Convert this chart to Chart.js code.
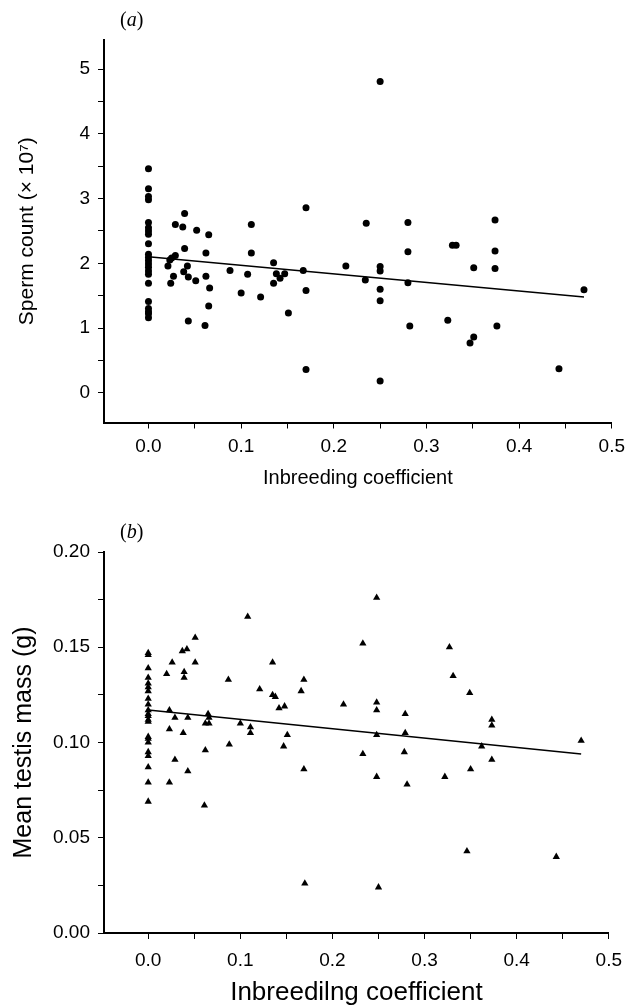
<!DOCTYPE html>
<html>
<head>
<meta charset="utf-8">
<script src="https://cdn.jsdelivr.net/npm/chart.js@4/dist/chart.umd.min.js"></script>
<style>
  body { margin: 0; background: #fff; }
  .panel { position: absolute; left: 0; }
  canvas { display: block; }
</style>
</head>
<body>
<div class="panel" style="top:0px"><canvas id="sperm-chart" width="632" height="490"></canvas></div>
<div class="panel" style="top:480px"><canvas id="testis-chart" width="632" height="528"></canvas></div>
<script>
// (a) sperm count against inbreeding coefficient
var spermX = [0, 0, 0, 0, 0, 0, 0, 0, 0, 0, 0, 0, 0, 0, 0, 0, 0, 0, 0, 0, 0, 0,
    0.021, 0.023, 0.025, 0.029, 0.027, 0.024, 0.029, 0.037, 0.039, 0.039, 0.042, 0.038, 0.043, 0.043,
    0.051, 0.052, 0.062, 0.062, 0.061, 0.065, 0.066, 0.065, 0.088, 0.100, 0.107, 0.111, 0.111, 0.121,
    0.135, 0.135, 0.138, 0.142, 0.147, 0.151, 0.167, 0.170, 0.170, 0.170, 0.213, 0.235, 0.234,
    0.250, 0.250, 0.250, 0.250, 0.250, 0.250, 0.280, 0.280, 0.280, 0.282, 0.323, 0.328, 0.332,
    0.351, 0.347, 0.351, 0.374, 0.374, 0.374, 0.376, 0.443, 0.470]
var spermY = [3.46, 3.15, 3.03, 2.98, 2.63, 2.55, 2.50, 2.45, 2.30, 2.14, 2.09, 2.04, 1.99, 1.94, 1.88, 1.83, 1.69, 1.41, 1.30, 1.25, 1.22, 1.16,
    1.96, 2.05, 2.08, 2.12, 1.80, 1.69, 2.60, 2.56, 2.77, 2.23, 1.96, 1.87, 1.79, 1.11,
    1.73, 2.51, 2.16, 1.80, 1.04, 2.44, 1.62, 1.34, 1.89, 1.54, 1.83, 2.60, 2.16, 1.48,
    2.01, 1.69, 1.84, 1.77, 1.84, 1.23, 1.89, 2.86, 1.58, 0.36, 1.96, 2.62, 1.74,
    4.81, 1.95, 1.88, 1.60, 1.42, 0.18, 2.63, 2.18, 1.70, 1.03, 1.12, 2.28, 2.28,
    1.93, 0.77, 0.86, 2.67, 2.19, 1.92, 1.03, 0.37, 1.59]
var spermFitX = [0, 0.47]
var spermFitY = [2.10, 1.48]

// (b) mean testis mass against inbreeding coefficient
var testisX = [0, 0, 0, 0, 0, 0, 0, 0, 0, 0, 0, 0, 0, 0, 0, 0, 0, 0, 0, 0, 0, 0,
    0.020, 0.023, 0.023, 0.023, 0.026, 0.029, 0.029, 0.037, 0.042, 0.039,
    0.039, 0.038, 0.043, 0.043, 0.051, 0.051, 0.065, 0.066, 0.062, 0.066,
    0.062, 0.061, 0.087, 0.088, 0.100, 0.108, 0.111, 0.111, 0.121, 0.135,
    0.135, 0.138, 0.142, 0.147, 0.148, 0.151, 0.169, 0.166, 0.169, 0.170,
    0.212, 0.233, 0.233, 0.248, 0.248, 0.248, 0.248, 0.248, 0.250, 0.279,
    0.279, 0.278, 0.281, 0.322, 0.327, 0.331, 0.349, 0.362, 0.350, 0.346,
    0.373, 0.373, 0.373, 0.443, 0.470]
var testisY = [0.147, 0.146, 0.139, 0.134, 0.131, 0.129, 0.127, 0.123, 0.120, 0.117, 0.115, 0.114, 0.112, 0.111, 0.103, 0.102, 0.100, 0.095, 0.093, 0.087, 0.079, 0.069,
    0.136, 0.117, 0.107, 0.079, 0.142, 0.113, 0.091, 0.148, 0.149, 0.137,
    0.134, 0.105, 0.113, 0.085, 0.155, 0.142, 0.115, 0.113, 0.110, 0.110,
    0.096, 0.067, 0.133, 0.099, 0.110, 0.166, 0.108, 0.105, 0.128, 0.142,
    0.125, 0.124, 0.118, 0.098, 0.119, 0.104, 0.133, 0.127, 0.086, 0.026,
    0.120, 0.152, 0.094, 0.176, 0.121, 0.117, 0.104, 0.082, 0.024, 0.115,
    0.105, 0.095, 0.078, 0.082, 0.150, 0.135, 0.126, 0.098, 0.086, 0.043,
    0.112, 0.109, 0.091, 0.040, 0.101]
var testisFitX = [0, 0.47]
var testisFitY = [0.117, 0.094]

var xTickLabels = ['0.0', '0.1', '0.2', '0.3', '0.4', '0.5']

Chart.defaults.color = '#000'
Chart.defaults.font.family = '"Liberation Sans", Arial, sans-serif'

function points(xs, ys) {
    return xs.map(function (x, i) { return { x: x, y: ys[i] } })
}

var panelLabel = {
    id: 'panelLabel',
    afterDraw: function (chart, args, opts) {
        var c = chart.ctx, a = chart.chartArea
        var x = a.left + 16, y = a.top - 19
        c.save()
        c.fillStyle = '#000'
        c.textBaseline = 'middle'
        c.font = '20px "Liberation Serif", serif'
        c.fillText('(', x, y)
        x += c.measureText('(').width
        c.font = 'italic 20px "Liberation Serif", serif'
        c.fillText(opts.text, x, y)
        x += c.measureText(opts.text).width
        c.font = '20px "Liberation Serif", serif'
        c.fillText(')', x, y)
        c.restore()
    }
}

function makeChart(id, cfg) {
    var ctx = document.getElementById(id).getContext('2d')
    return new Chart(ctx, {
        type: 'scatter',
        data: {
            datasets: [{
                data: points(cfg.x, cfg.y),
                pointStyle: cfg.marker,
                pointRadius: cfg.radius,
                pointHoverRadius: cfg.radius,
                backgroundColor: '#000',
                borderColor: '#000',
                borderWidth: 0
            }, {
                data: points(cfg.fitX, cfg.fitY),
                showLine: true,
                pointRadius: 0,
                borderColor: '#000',
                borderWidth: 1.5
            }]
        },
        options: {
            responsive: false,
            animation: false,
            events: [],
            layout: { padding: { top: cfg.padTop, right: 14, left: 0, bottom: 0 } },
            plugins: {
                legend: { display: false },
                tooltip: { enabled: false },
                panelLabel: { text: cfg.panel }
            },
            scales: {
                x: {
                    type: 'linear',
                    min: -0.048,
                    max: 0.5,
                    afterFit: function (s) { s.height = cfg.xHeight },
                    border: { color: '#000', width: 2 },
                    grid: { drawOnChartArea: false, tickLength: 6, tickWidth: 1, tickColor: '#000' },
                    ticks: {
                        stepSize: 0.05,
                        includeBounds: false,
                        maxRotation: 0,
                        autoSkip: false,
                        padding: cfg.xTickPad,
                        font: { size: 19 },
                        callback: function (v) {
                            var k = Math.round(v * 10)
                            return Math.abs(v * 10 - k) < 1e-6 ? xTickLabels[k] : ''
                        }
                    },
                    title: {
                        display: true,
                        text: cfg.xTitle,
                        font: { size: cfg.xTitleSize },
                        padding: { top: 0, bottom: cfg.xTitlePad }
                    }
                },
                y: {
                    min: cfg.yMin,
                    max: cfg.yMax,
                    afterFit: function (s) { s.width = 104 },
                    border: { color: '#000', width: 2 },
                    grid: { drawOnChartArea: false, tickLength: 6, tickWidth: 1, tickColor: '#000' },
                    ticks: {
                        stepSize: cfg.yStep,
                        includeBounds: false,
                        autoSkip: false,
                        padding: 8,
                        font: { size: 19 },
                        callback: cfg.yLabel
                    },
                    title: {
                        display: true,
                        text: cfg.yTitle,
                        font: { size: cfg.yTitleSize },
                        padding: { top: cfg.yTitlePad, bottom: 0 }
                    }
                }
            }
        },
        plugins: [panelLabel]
    })
}

makeChart('sperm-chart', {
    x: spermX, y: spermY, fitX: spermFitX, fitY: spermFitY,
    marker: 'circle', radius: 3.5, panel: 'a',
    padTop: 40, xHeight: 67.5, xTickPad: 7,
    yMin: -0.46, yMax: 5.45, yStep: 0.5,
    yLabel: function (v) {
        var k = Math.round(v)
        return Math.abs(v - k) < 1e-6 ? String(k) : ''
    },
    xTitle: 'Inbreeding coefficient', xTitleSize: 20, xTitlePad: 0,
    yTitle: 'Sperm count (\u00d7 10\u2077)', yTitleSize: 21, yTitlePad: 15
})

makeChart('testis-chart', {
    x: testisX, y: testisY, fitX: testisFitX, fitY: testisFitY,
    marker: 'triangle', radius: 4.2, panel: 'b',
    padTop: 72, xHeight: 75, xTickPad: 10,
    yMin: 0, yMax: 0.2, yStep: 0.025,
    yLabel: function (v) {
        var k = Math.round(v * 20)
        return Math.abs(v * 20 - k) < 1e-6 ? (k / 20).toFixed(2) : ''
    },
    xTitle: 'Inbreedilng coefficient', xTitleSize: 26, xTitlePad: 0,
    yTitle: 'Mean testis mass (g)', yTitleSize: 25, yTitlePad: 9
})
</script>
</body>
</html>
